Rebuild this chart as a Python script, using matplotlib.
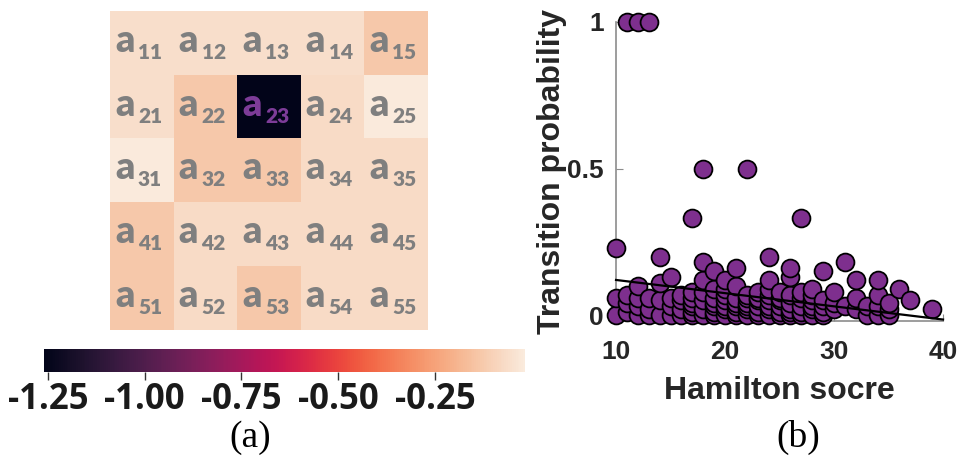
"""
Heatmap of the a_ij weights (a) next to transition probability vs Hamilton score (b)
"""

import numpy as np
import matplotlib
matplotlib.use('Agg')
import matplotlib.pyplot as plt
import seaborn as sns

plt.rcParams['axes.unicode_minus'] = False

# (a) weight matrix, values
weights = [
    [-0.06, -0.06, -0.06, -0.06, -0.13],
    [-0.06, -0.13, -1.26, -0.07, -0.02],
    [-0.02, -0.13, -0.13, -0.07, -0.07],
    [-0.13, -0.07, -0.07, -0.07, -0.07],
    [-0.13, -0.07, -0.13, -0.07, -0.07],
]
cbar_ticks = [-1.25, -1.00, -0.75, -0.50, -0.25]
vmin, vmax = -1.26, -0.017

# (b) transition probability vs Hamilton score
hamilton = [10, 10, 10,
            11, 11, 11, 11,
            12, 12, 12, 12, 12,
            13, 13, 13, 13,
            14, 14, 14, 14,
            15, 15, 15, 15,
            16, 16, 16, 16,
            17, 17, 17, 17, 17, 17, 17,
            18, 18, 18, 18, 18, 18, 18,
            19, 19, 19, 19, 19, 19, 19,
            20, 20, 20, 20, 20, 20, 20,
            21, 21, 21, 21, 21, 21, 21,
            22, 22, 22, 22, 22, 22, 22,
            23, 23, 23, 23, 23, 23,
            24, 24, 24, 24, 24, 24, 24, 24,
            25, 25, 25, 25, 25, 25,
            26, 26, 26, 26, 26, 26, 26,
            27, 27, 27, 27, 27, 27,
            28, 28, 28, 28, 28, 28,
            29, 29, 29, 29, 29,
            30, 30, 30,
            31, 31,
            32, 32, 32,
            33, 33,
            34, 34, 34, 34,
            35, 35, 35,
            36, 37, 39]
prob = [0.00, 0.06, 0.23,
        0.01, 0.04, 0.07, 1.00,
        0.00, 0.03, 0.06, 0.10, 1.00,
        0.00, 0.02, 0.06, 1.00,
        0.00, 0.05, 0.11, 0.20,
        0.00, 0.03, 0.06, 0.13,
        0.00, 0.02, 0.05, 0.07,
        0.00, 0.01, 0.03, 0.04, 0.06, 0.08, 0.33,
        0.00, 0.02, 0.05, 0.08, 0.12, 0.18, 0.50,
        0.00, 0.01, 0.03, 0.04, 0.06, 0.09, 0.15,
        0.00, 0.02, 0.03, 0.05, 0.07, 0.09, 0.12,
        0.00, 0.01, 0.03, 0.04, 0.06, 0.10, 0.16,
        0.00, 0.02, 0.03, 0.04, 0.06, 0.07, 0.50,
        0.00, 0.01, 0.03, 0.05, 0.06, 0.08,
        0.00, 0.02, 0.03, 0.05, 0.07, 0.09, 0.12, 0.20,
        0.00, 0.01, 0.03, 0.05, 0.06, 0.08,
        0.00, 0.01, 0.02, 0.04, 0.07, 0.13, 0.16,
        0.00, 0.01, 0.03, 0.06, 0.08, 0.33,
        0.00, 0.02, 0.03, 0.05, 0.07, 0.09,
        0.00, 0.01, 0.03, 0.05, 0.15,
        0.02, 0.04, 0.08,
        0.03, 0.18,
        0.02, 0.06, 0.12,
        0.00, 0.03,
        0.00, 0.03, 0.07, 0.12,
        0.00, 0.02, 0.04,
        0.09, 0.05, 0.02]
fit_x = [10, 40]
fit_y = [0.12, -0.015]

fig = plt.figure(figsize=(9.68, 4.68), dpi=100)

# ---- (a) heatmap ----
ax_h = fig.add_axes([0.1136, 0.2949, 0.3285, 0.6816])
cmap = sns.color_palette('rocket', as_cmap=True)
im = ax_h.imshow(np.array(weights), cmap=cmap, vmin=vmin, vmax=vmax, aspect='auto')
ax_h.axis('off')

for i in range(5):
    for j in range(5):
        color = '#7d3c98' if (i, j) == (1, 2) else '#7f7f7f'
        ax_h.text(j - 0.5 + 0.08, i - 0.5 + 0.64, 'a', ha='left', va='baseline',
                  fontsize=27, fontweight='heavy', family='Lato', color=color)
        ax_h.text(j - 0.5 + 0.44, i - 0.5 + 0.75, f'{i + 1}{j + 1}', ha='left',
                  va='baseline', fontsize=15, fontweight='heavy', family='Lato', color=color)

cax = fig.add_axes([0.0455, 0.2051, 0.4969, 0.0491])
cb = fig.colorbar(im, cax=cax, orientation='horizontal', ticks=cbar_ticks)
cb.outline.set_visible(False)
cb.ax.set_xticklabels([f'{t:.2f}' for t in cbar_ticks])
cb.ax.tick_params(length=6, width=1, color='#333333', pad=1)
for lbl in cb.ax.get_xticklabels():
    lbl.set_fontsize(25)
    lbl.set_fontweight('bold')
    lbl.set_family('Open Sans')
    lbl.set_color('#1a1a1a')

fig.text(0.2583, 0.065, '(a)', ha='center', va='center', fontsize=27,
         family='Liberation Serif')

# ---- (b) scatter ----
ax_s = fig.add_axes([0.6364, 0.3141, 0.3378, 0.6389])
ax_s.scatter(hamilton, prob, s=165, c='#7e2f8e', edgecolors='black',
             linewidths=1.3, clip_on=False, zorder=3)
ax_s.plot(fit_x, fit_y, color='black', lw=1.6, clip_on=False, zorder=4)

ax_s.set_xlim(10, 40)
ax_s.set_ylim(-0.02, 1.0)
ax_s.set_xticks([10, 20, 30, 40])
ax_s.set_yticks([0, 0.5, 1])
ax_s.set_yticklabels(['0', '0.5', '1'])
for side in ['top', 'right']:
    ax_s.spines[side].set_visible(False)
for side in ['left', 'bottom']:
    ax_s.spines[side].set_color('#8c8c8c')
    ax_s.spines[side].set_linewidth(1.2)
ax_s.tick_params(direction='in', length=5, color='#8c8c8c', labelcolor='#262626')
ax_s.tick_params(axis='x', pad=14)
ax_s.tick_params(axis='y', pad=9)
for lbl in ax_s.get_xticklabels() + ax_s.get_yticklabels():
    lbl.set_fontsize(19)
    lbl.set_fontweight('bold')
    lbl.set_family('Liberation Sans')

ax_s.set_xlabel('Hamilton socre', fontsize=23, fontweight='bold',
                family='Liberation Sans', color='#262626', labelpad=8)
ax_s.set_ylabel('Transition probability', fontsize=23, fontweight='bold',
                family='Liberation Sans', color='#262626', labelpad=0)

fig.text(0.8244, 0.065, '(b)', ha='center', va='center', fontsize=27,
         family='Liberation Serif')

plt.savefig('out.png', dpi=100)
plt.close()
